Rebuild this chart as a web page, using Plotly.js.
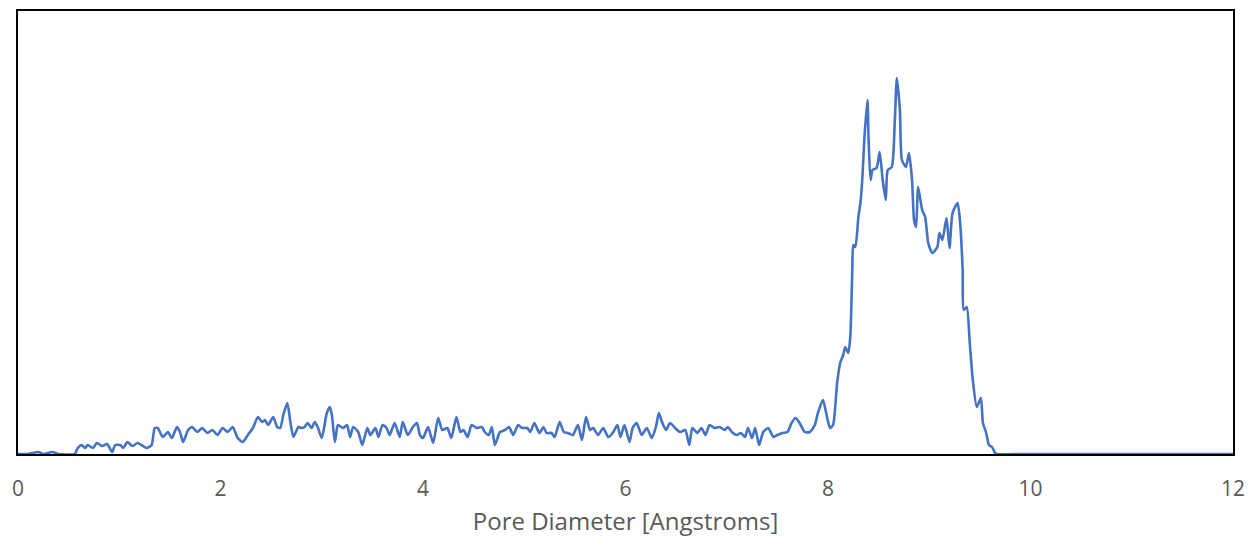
<!DOCTYPE html>
<html>
<head>
<meta charset="utf-8">
<script src="https://cdn.plot.ly/plotly-3.0.1.min.js"></script>
<style>
  html, body { margin: 0; padding: 0; background: #ffffff; }
  #chart { width: 1250px; height: 541px; }
</style>
</head>
<body>
<div id="chart"></div>
<script>
// Pore size distribution: diameter (Å) vs. relative pore volume (a.u.)
const poreDiameter = [
  0.00, 0.10, 0.20, 0.25, 0.34, 0.40, 0.56, 0.59, 0.63, 0.66, 0.69, 0.74, 0.78, 0.83, 0.88, 0.93,
  0.96, 1.01, 1.04, 1.08, 1.13, 1.18, 1.22, 1.27, 1.32, 1.35, 1.38, 1.43, 1.48, 1.52, 1.57, 1.60,
  1.63, 1.68, 1.72, 1.77, 1.82, 1.87, 1.92, 1.97, 2.02, 2.07, 2.12, 2.17, 2.22, 2.27, 2.32, 2.37,
  2.41, 2.44, 2.47, 2.52, 2.56, 2.59, 2.62, 2.66, 2.69, 2.72, 2.77, 2.80, 2.83, 2.86, 2.90, 2.93,
  2.96, 3.00, 3.05, 3.08, 3.10, 3.13, 3.16, 3.21, 3.25, 3.28, 3.31, 3.36, 3.40, 3.45, 3.48, 3.53,
  3.56, 3.60, 3.64, 3.67, 3.72, 3.77, 3.80, 3.85, 3.90, 3.94, 3.97, 4.00, 4.05, 4.10, 4.15, 4.19,
  4.24, 4.28, 4.33, 4.37, 4.40, 4.44, 4.48, 4.53, 4.58, 4.61, 4.65, 4.68, 4.71, 4.76, 4.81, 4.85,
  4.89, 4.94, 4.98, 5.03, 5.06, 5.10, 5.15, 5.19, 5.22, 5.27, 5.30, 5.35, 5.39, 5.43, 5.48, 5.53,
  5.57, 5.61, 5.65, 5.68, 5.73, 5.78, 5.83, 5.88, 5.92, 5.95, 5.99, 6.04, 6.07, 6.11, 6.16, 6.21,
  6.26, 6.30, 6.33, 6.36, 6.40, 6.44, 6.49, 6.54, 6.59, 6.63, 6.66, 6.71, 6.75, 6.79, 6.83, 6.88,
  6.93, 6.98, 7.01, 7.05, 7.10, 7.14, 7.18, 7.21, 7.25, 7.28, 7.32, 7.36, 7.41, 7.46, 7.50, 7.55,
  7.60, 7.64, 7.68, 7.72, 7.77, 7.82, 7.87, 7.90, 7.95, 7.99, 8.02, 8.05, 8.09, 8.12, 8.15, 8.17,
  8.20, 8.22, 8.24, 8.25, 8.27, 8.30, 8.32, 8.34, 8.36, 8.39, 8.40, 8.42, 8.44, 8.48, 8.51, 8.54,
  8.57, 8.59, 8.63, 8.66, 8.68, 8.71, 8.73, 8.77, 8.80, 8.83, 8.85, 8.87, 8.89, 8.93, 8.96, 8.99,
  9.03, 9.08, 9.10, 9.13, 9.17, 9.20, 9.23, 9.28, 9.30, 9.33, 9.34, 9.37, 9.40, 9.43, 9.47, 9.51,
  9.53, 9.56, 9.59, 9.62, 9.65, 9.67, 10.00, 11.00, 12.00
];

const poreVolume = [
  0, 0, 2, 0, 2, 0, 0, 6, 9, 6, 9, 6, 11, 8, 10, 2,
  9, 9, 6, 12, 8, 11, 9, 6, 9, 26, 26, 17, 22, 16, 27, 22,
  12, 24, 27, 22, 26, 21, 24, 19, 26, 22, 27, 16, 12, 19, 26, 37,
  32, 34, 29, 37, 27, 26, 39, 51, 32, 17, 27, 26, 27, 31, 26, 32,
  27, 16, 41, 47, 39, 12, 29, 26, 29, 17, 27, 22, 9, 26, 19, 26,
  17, 29, 26, 19, 31, 17, 32, 19, 27, 31, 19, 16, 27, 11, 36, 24,
  26, 16, 37, 22, 24, 17, 29, 26, 27, 22, 19, 27, 9, 22, 24, 27,
  19, 29, 26, 26, 22, 31, 21, 27, 21, 21, 17, 32, 22, 21, 19, 29,
  14, 37, 24, 26, 19, 26, 17, 22, 29, 17, 29, 12, 26, 31, 19, 26,
  16, 27, 41, 32, 24, 31, 26, 22, 24, 9, 26, 21, 26, 19, 29, 26,
  27, 24, 27, 22, 19, 21, 17, 26, 16, 26, 9, 22, 26, 17, 19, 21,
  22, 31, 36, 31, 22, 22, 29, 41, 54, 37, 26, 29, 71, 91, 99, 107,
  101, 117, 184, 209, 207, 237, 251, 277, 317, 354, 317, 274, 284, 286, 302, 274,
  254, 284, 287, 334, 376, 344, 294, 287, 301, 274, 234, 227, 267, 244, 237, 211,
  201, 207, 221, 214, 236, 206, 241, 251, 237, 184, 144, 147, 111, 74, 47, 56,
  31, 22, 9, 7, 1, 0, 0, 0, 0
];

const xTicks = [0, 2, 4, 6, 8, 10, 12];
const xTitle = 'Pore Diameter [Angstroms]';

const trace = {
  x: poreDiameter,
  y: poreVolume,
  type: 'scatter',
  mode: 'lines',
  line: { color: '#4472C4', width: 2.6, shape: 'spline', smoothing: 0.6 },
  hoverinfo: 'x+y'
};

const layout = {
  width: 1250,
  height: 541,
  margin: { l: 18, r: 17, t: 11, b: 87 },
  paper_bgcolor: '#ffffff',
  plot_bgcolor: '#ffffff',
  showlegend: false,
  font: { family: 'Open Sans, sans-serif', color: '#595959' },
  xaxis: {
    range: [0, 12],
    tickmode: 'array',
    tickvals: xTicks,
    ticktext: xTicks.map(String),
    ticks: 'outside',
    ticklen: 15,
    tickcolor: 'rgba(0,0,0,0)',
    tickfont: { size: 21, color: '#595959' },
    showgrid: false,
    zeroline: false,
    showline: true,
    mirror: true,
    linecolor: '#000000',
    linewidth: 2,
    title: { text: xTitle, font: { size: 24, color: '#595959' }, standoff: 12 }
  },
  yaxis: {
    range: [0, 443],
    showticklabels: false,
    ticks: '',
    showgrid: false,
    zeroline: false,
    showline: true,
    mirror: true,
    linecolor: '#000000',
    linewidth: 2
  }
};

Plotly.newPlot('chart', [trace], layout, { displayModeBar: false, staticPlot: true });
</script>
</body>
</html>
